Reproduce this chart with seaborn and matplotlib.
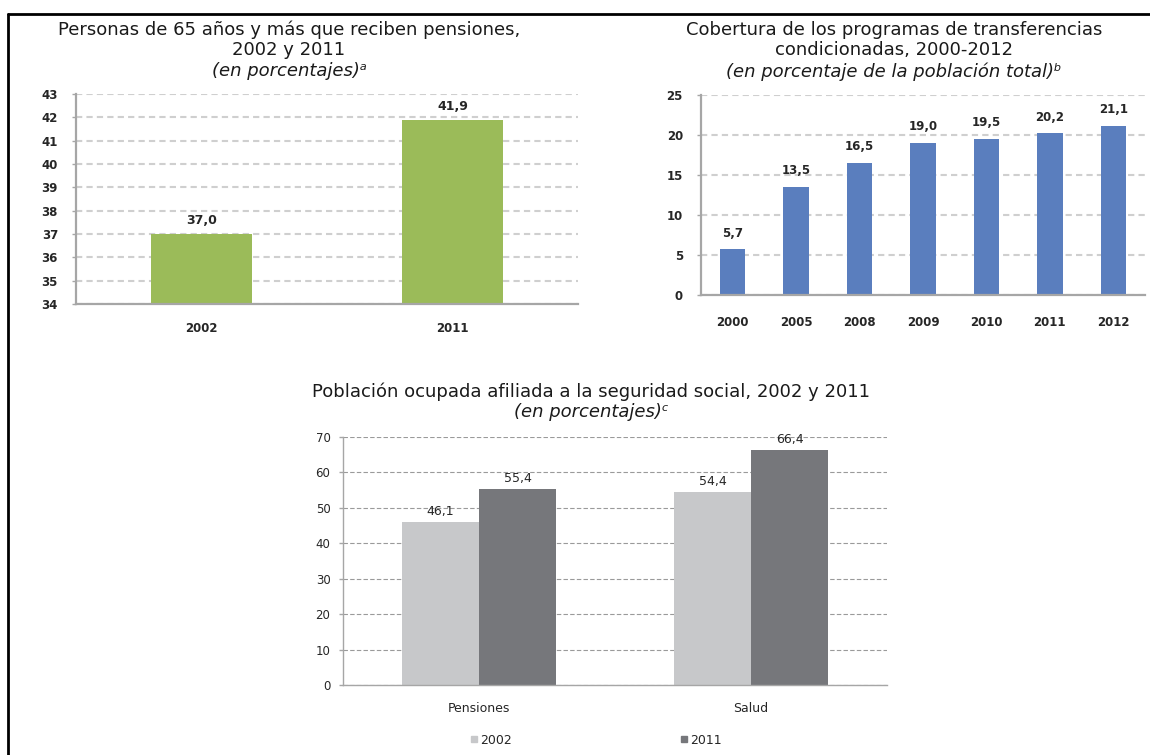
import numpy as np
import pandas as pd
import matplotlib
matplotlib.use("Agg")
import matplotlib.pyplot as plt
from matplotlib.lines import Line2D
import seaborn as sns

# data
pens_years = ["2002", "2011"]
pens_values = [37.0, 41.9]

cct_years = ["2000", "2005", "2008", "2009", "2010", "2011", "2012"]
cct_values = [5.7, 13.5, 16.5, 19.0, 19.5, 20.2, 21.1]

ss_categories = ["Pensiones", "Salud"]
ss_2002 = [46.1, 54.4]
ss_2011 = [55.4, 66.4]

GREEN = "#9bbb59"
BLUE = "#5a7ebe"
LIGHT = "#c7c8ca"
DARK = "#76777b"
AXIS = "#a6a6a6"
TXT = "#262626"

sns.set_style("white")
plt.rcParams["font.family"] = ["DejaVu Sans"]

W, H = 1150, 755
fig = plt.figure(figsize=(W / 100, H / 100), dpi=100)


def px_axes(left, top, right, bottom):
    return fig.add_axes([left / W, 1 - bottom / H, (right - left) / W, (bottom - top) / H])


def fmt(v):
    return f"{v:.1f}".replace(".", ",")


def style_axes(ax, n, grid_dash, grid_color, grid_lw, spine_lw, ypad, xpad, ysize, xsize, bold):
    sns.despine(ax=ax)
    for s in ("left", "bottom"):
        ax.spines[s].set_color(AXIS)
        ax.spines[s].set_linewidth(spine_lw)
    ax.set_axisbelow(True)
    ax.yaxis.grid(True, linestyle=(0, grid_dash), color=grid_color, lw=grid_lw)
    ax.xaxis.grid(False)
    ax.set_xlim(-0.5, n - 0.5)
    ax.set_xticks(np.arange(n + 1) - 0.5, minor=True)
    ax.tick_params(axis="x", which="major", length=0, pad=xpad, labelsize=xsize)
    ax.tick_params(axis="x", which="minor", length=4, width=1, color=AXIS, direction="out")
    ax.tick_params(axis="y", length=3, width=1, color=AXIS, direction="out", pad=ypad,
                   labelsize=ysize)
    ax.tick_params(labelcolor=TXT, left=True, bottom=True)
    w = "bold" if bold else "normal"
    for lab in ax.get_xticklabels() + ax.get_yticklabels():
        lab.set_fontweight(w)
    ax.set_xlabel("")
    ax.set_ylabel("")


# chart 1: pensions 65+
ax1 = px_axes(76, 94, 578, 304)
sns.barplot(x=pens_years, y=pens_values, color=GREEN, saturation=1, width=0.4,
            linewidth=0, ax=ax1)
ax1.set_ylim(34, 43)
ax1.set_yticks(range(34, 44))
style_axes(ax1, len(pens_years), (3, 2), "#cfcfcf", 1.5, 1.6, 10, 13, 8.5, 8.5, True)
ax1.bar_label(ax1.containers[0], labels=[fmt(v) for v in pens_values],
              padding=5, fontsize=9, fontweight="bold", color=TXT)

# chart 2: conditional transfers coverage
ax2 = px_axes(701, 95, 1145, 295)
sns.barplot(x=cct_years, y=cct_values, color=BLUE, saturation=1, width=0.4,
            linewidth=0, ax=ax2)
ax2.set_ylim(0, 25)
ax2.set_yticks(range(0, 26, 5))
style_axes(ax2, len(cct_years), (3, 2), "#cfcfcf", 1.5, 1.6, 10, 15, 8.5, 8.5, True)
ax2.bar_label(ax2.containers[0], labels=[fmt(v) for v in cct_values],
              padding=7, fontsize=8.5, fontweight="bold", color=TXT)

# chart 3: social security affiliation
ss = pd.DataFrame({
    "cat": ss_categories * 2,
    "year": ["2002"] * len(ss_categories) + ["2011"] * len(ss_categories),
    "val": ss_2002 + ss_2011,
})
ax3 = px_axes(343, 437, 887, 685)
sns.barplot(data=ss, x="cat", y="val", hue="year", palette=[LIGHT, DARK],
            saturation=1, width=0.566, linewidth=0, legend=False, ax=ax3)
ax3.set_ylim(0, 70)
ax3.set_yticks(range(0, 71, 10))
style_axes(ax3, len(ss_categories), (4, 2), "#9a9a9a", 0.8, 1.0, 6, 12, 8.5, 9, False)
for cont, vals in zip(ax3.containers, [ss_2002, ss_2011]):
    ax3.bar_label(cont, labels=[fmt(v) for v in vals], padding=3, fontsize=9, color=TXT)

handles = [Line2D([], [], marker="s", ls="none", color=c, markersize=5) for c in (LIGHT, DARK)]
fig.legend(handles, ["2002", "2011"], loc="center", bbox_to_anchor=(596 / W, 1 - 740 / H),
           ncol=2, frameon=False, fontsize=9, handlelength=0.6, handletextpad=0.2,
           columnspacing=13.5, labelcolor=TXT)


# titles
def title(cx, lines):
    for y, txt, style in lines:
        fig.text(cx / W, 1 - y / H, txt, ha="center", va="center", fontsize=13,
                 style=style, color="#1a1a1a")


title(289, [(30, "Personas de 65 años y más que reciben pensiones,", "normal"),
            (50, "2002 y 2011", "normal"),
            (71, "(en porcentajes)ᵃ", "italic")])
title(894, [(30, "Cobertura de los programas de transferencias", "normal"),
            (50, "condicionadas, 2000-2012", "normal"),
            (72, "(en porcentaje de la población total)ᵇ", "italic")])
title(591, [(392, "Población ocupada afiliada a la seguridad social, 2002 y 2011", "normal"),
            (412, "(en porcentajes)ᶜ", "italic")])

# page frame (top and left edges)
fig.add_artist(Line2D([8 / W, 1], [1 - 14 / H] * 2, color="black", lw=2))
fig.add_artist(Line2D([8 / W] * 2, [0, 1 - 14 / H], color="black", lw=2))

fig.savefig("out.png", dpi=100)
